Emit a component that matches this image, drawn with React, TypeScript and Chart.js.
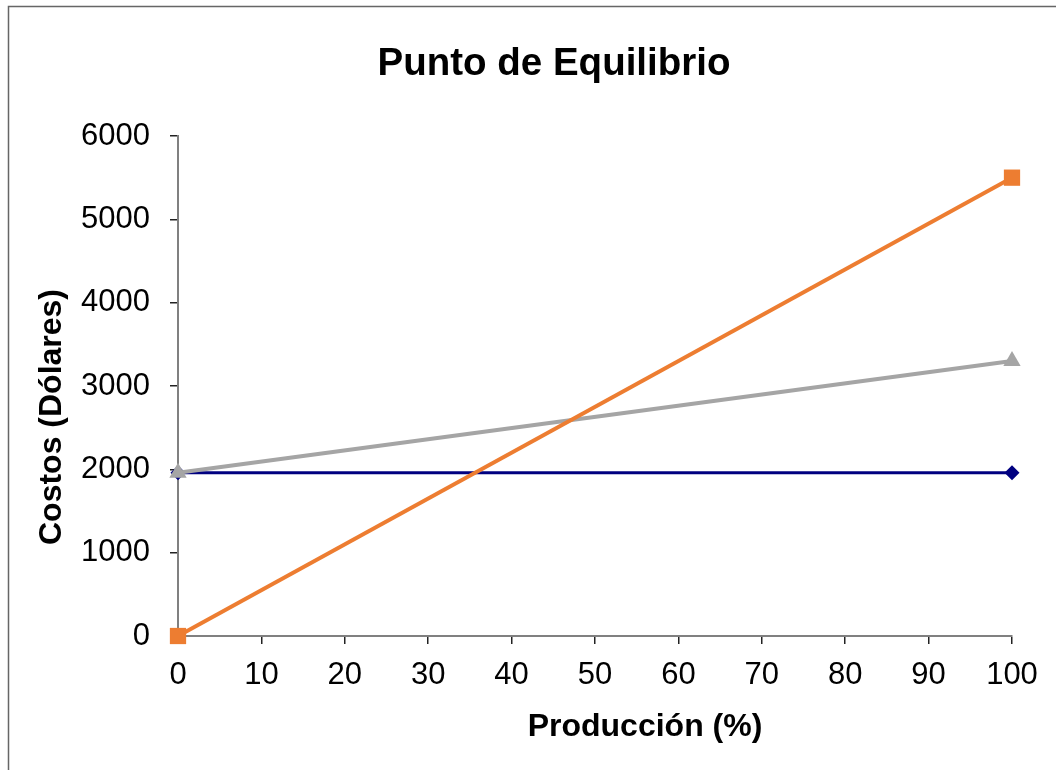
import React, { useEffect, useRef } from "react";
import { Chart, registerables } from "chart.js";

Chart.register(...registerables);

const produccion = [0, 100];
const costoFijo = [1960, 1960];
const costoTotal = [1960, 3300];
const ingresos = [0, 5500];

const titulo = "Punto de Equilibrio";
const tituloX = "Producción (%)";
const tituloY = "Costos (Dólares)";

const FONT = "'Liberation Sans', Arial, sans-serif";

const textPlugin = {
  id: "textPlugin",
  afterDraw(chart: any) {
    const ctx = chart.ctx;
    ctx.save();
    // outer frame
    ctx.strokeStyle = "#666666";
    ctx.lineWidth = 1.5;
    ctx.beginPath();
    ctx.moveTo(8.5, 2000);
    ctx.lineTo(8.5, 6.5);
    ctx.lineTo(2000, 6.5);
    ctx.stroke();

    ctx.fillStyle = "#000000";
    ctx.textAlign = "center";
    ctx.textBaseline = "alphabetic";
    ctx.font = `bold 38.5px ${FONT}`;
    ctx.fillText(titulo, 554, 75);
    ctx.font = `bold 32px ${FONT}`;
    ctx.fillText(tituloX, 645, 736);
    ctx.translate(61, 417);
    ctx.rotate(-Math.PI / 2);
    ctx.fillText(tituloY, 0, 0);
    ctx.restore();
  },
};

export default function App() {
  const ref = useRef<HTMLCanvasElement | null>(null);
  useEffect(() => {
    if (!ref.current) return;
    const mk = (ys: number[]) => produccion.map((x, i) => ({ x, y: ys[i] }));
    const chart = new Chart(ref.current, {
      type: "line",
      data: {
        datasets: [
          {
            label: "Ingresos",
            data: mk(ingresos),
            borderColor: "#ED7D31",
            backgroundColor: "#ED7D31",
            borderWidth: 4,
            pointStyle: "rect",
            pointRadius: 11.5,
            pointBorderWidth: 0,
            clip: false as any,
            order: 1,
          },
          {
            label: "Costo Total",
            data: mk(costoTotal),
            borderColor: "#A5A5A5",
            backgroundColor: "#A5A5A5",
            borderWidth: 4,
            pointStyle: "triangle",
            pointRadius: 10,
            pointBorderWidth: 0,
            clip: false as any,
            order: 2,
          },
          {
            label: "Costo Fijo",
            data: mk(costoFijo),
            borderColor: "#000080",
            backgroundColor: "#000080",
            borderWidth: 3,
            pointStyle: "rectRot",
            pointRadius: 7.5,
            pointBorderWidth: 0,
            clip: false as any,
            order: 3,
          },
        ],
      },
      options: {
        responsive: false,
        animation: false,
        layout: { padding: { top: 136, right: 44, left: 0, bottom: 0 } },
        plugins: {
          legend: { display: false },
          title: { display: false },
          tooltip: { enabled: false },
        },
        scales: {
          x: {
            type: "linear",
            min: 0,
            max: 100,
            afterFit: (s: any) => {
              s.height = 134;
            },
            ticks: {
              stepSize: 10,
              color: "#000000",
              font: { family: FONT, size: 31 },
              padding: 13,
              maxRotation: 0,
              callback: (v: any) => String(v),
            },
            grid: {
              drawOnChartArea: false,
              drawTicks: true,
              tickLength: 8,
              tickColor: "#222222",
              lineWidth: 1.5,
            },
            border: { color: "#808080", width: 2 },
          },
          y: {
            type: "linear",
            min: 0,
            max: 6000,
            afterFit: (s: any) => {
              s.width = 178;
            },
            ticks: {
              stepSize: 1000,
              color: "#000000",
              font: { family: FONT, size: 31 },
              padding: 20,
              callback: (v: any) => String(v),
            },
            grid: {
              drawOnChartArea: false,
              drawTicks: true,
              tickLength: 8,
              tickColor: "#222222",
              lineWidth: 1.5,
            },
            border: { color: "#808080", width: 2 },
          },
        },
      },
      plugins: [textPlugin],
    });
    return () => chart.destroy();
  }, []);
  return (
    <div style={{ position: "absolute", left: 0, top: 0, width: 1056, height: 770, background: "#ffffff" }}>
      <canvas ref={ref} width={1056} height={770} style={{ width: 1056, height: 770, display: "block" }} />
    </div>
  );
}
